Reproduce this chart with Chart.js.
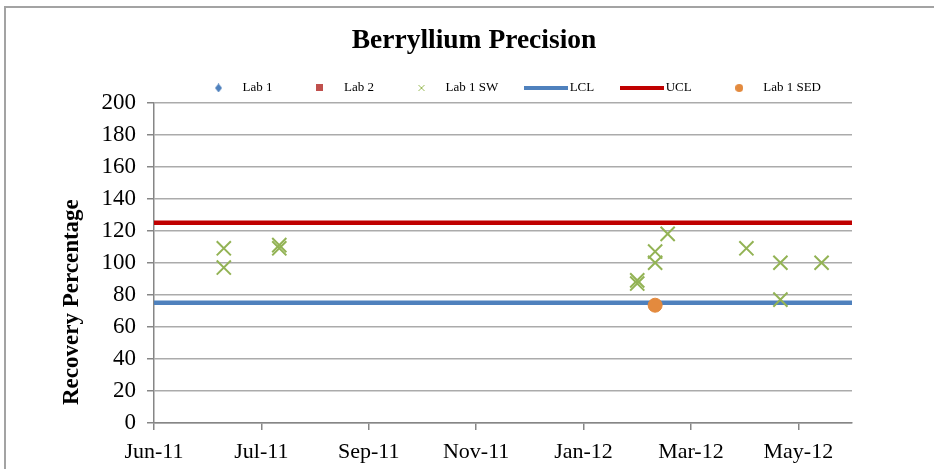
<!DOCTYPE html>
<html>
<head>
<meta charset="utf-8">
<script src="https://cdn.jsdelivr.net/npm/chart.js@4"></script>
<style>
  html, body { margin: 0; padding: 0; background: #fff; overflow: hidden; }
  #frame { position: absolute; left: 4px; top: 6px; width: 2000px; height: 2000px;
           border-left: 2px solid #a3a3a3; border-top: 2px solid #a3a3a3; }
  #chart { position: absolute; left: 0; top: 0; }
</style>
</head>
<body>
<div id="frame"></div>
<canvas id="chart" width="934" height="469"></canvas>
<script>
// x axis runs in days from 1 Jun 2011, a labelled tick every 60 days
const axisStart = Date.UTC(2011, 5, 1);
const axisDays = 390;
const dayStep = 60;
const monthNames = ['Jan', 'Feb', 'Mar', 'Apr', 'May', 'Jun', 'Jul', 'Aug', 'Sep', 'Oct', 'Nov', 'Dec'];

const yMin = 0;
const yMax = 200;
const yStep = 20;

const lcl = 75;
const ucl = 125;

const lab1Dates = [];
const lab1Values = [];
const lab2Dates = [];
const lab2Values = [];

const swDates = ['2011-07-10', '2011-07-10', '2011-08-10', '2011-08-10',
                 '2012-02-26', '2012-02-26', '2012-03-07', '2012-03-07', '2012-03-14',
                 '2012-04-27', '2012-05-16', '2012-05-16', '2012-06-08'];
const swValues = [109, 97, 111, 109,
                  89, 87, 107, 100, 118,
                  109, 100, 77, 100];

const sedDates = ['2012-03-07'];
const sedValues = [73.5];

const seriesNames = ['Lab 1', 'Lab 2', 'Lab 1 SW', 'LCL', 'UCL', 'Lab 1 SED'];
const yTitle = 'Recovery Percentage';

const serif = "'Liberation Serif', 'DejaVu Serif', serif";

function toDay(d) {
  return (Date.parse(d) - axisStart) / 864e5;
}

function points(dates, values) {
  return dates.map((d, i) => ({ x: toDay(d), y: values[i] }));
}

function dayLabel(day) {
  const dt = new Date(axisStart + day * 864e5);
  return monthNames[dt.getUTCMonth()] + '-' + String(dt.getUTCFullYear()).slice(2);
}

function icon(w, h, paint) {
  const c = document.createElement('canvas');
  c.width = w;
  c.height = h;
  paint(c.getContext('2d'), w, h);
  return c;
}

// small legend swatches, one per series
const legendIcons = [
  icon(7, 9, (ctx, w, h) => {
    ctx.fillStyle = '#4F81BD';
    ctx.beginPath();
    ctx.moveTo(w / 2, 0); ctx.lineTo(w, h / 2); ctx.lineTo(w / 2, h); ctx.lineTo(0, h / 2);
    ctx.closePath();
    ctx.fill();
  }),
  icon(7, 7, (ctx, w, h) => {
    ctx.fillStyle = '#C0504D';
    ctx.fillRect(0, 0, w, h);
  }),
  icon(8, 8, (ctx, w, h) => {
    ctx.strokeStyle = '#9BBB59';
    ctx.lineWidth = 1;
    ctx.beginPath();
    ctx.moveTo(1, 1); ctx.lineTo(w - 1, h - 1);
    ctx.moveTo(w - 1, 1); ctx.lineTo(1, h - 1);
    ctx.stroke();
  }),
  icon(44, 4, (ctx, w, h) => {
    ctx.fillStyle = '#4F81BD';
    ctx.fillRect(0, 0, w, h);
  }),
  icon(44, 4, (ctx, w, h) => {
    ctx.fillStyle = '#C00000';
    ctx.fillRect(0, 0, w, h);
  }),
  icon(8, 8, (ctx, w, h) => {
    ctx.fillStyle = '#E38A3E';
    ctx.beginPath();
    ctx.arc(w / 2, h / 2, w / 2, 0, Math.PI * 2);
    ctx.fill();
  })
];

// legend row sits a bit right of the plot centre and close to the plot top
const legendNudge = {
  id: 'legendNudge',
  afterLayout(chart) {
    const lg = chart.legend;
    lg.left += 8;
    lg.right += 8;
    lg.top += 2;
    lg.bottom += 2;
  }
};

// vertical axis title, sitting a little above the bottom of the plot
const axisTitle = {
  id: 'axisTitle',
  afterDraw(chart) {
    const { ctx, chartArea } = chart;
    ctx.save();
    ctx.translate(72, chartArea.bottom - 18);
    ctx.rotate(-Math.PI / 2);
    ctx.font = 'bold 23px ' + serif;
    ctx.fillStyle = '#000';
    ctx.textAlign = 'left';
    ctx.textBaseline = 'middle';
    ctx.fillText(yTitle, 0, 0);
    ctx.restore();
  }
};

new Chart(document.getElementById('chart'), {
  type: 'scatter',
  data: {
    datasets: [
      {
        label: seriesNames[0],
        data: points(lab1Dates, lab1Values),
        pointStyle: 'rectRot',
        backgroundColor: '#4F81BD',
        borderColor: '#4F81BD',
      },
      {
        label: seriesNames[1],
        data: points(lab2Dates, lab2Values),
        pointStyle: 'rect',
        backgroundColor: '#C0504D',
        borderColor: '#C0504D',
      },
      {
        label: seriesNames[2],
        data: points(swDates, swValues),
        pointStyle: 'crossRot',
        pointRadius: 10,
        borderColor: '#93B355',
        borderWidth: 2,
        order: 0,
      },
      {
        label: seriesNames[3],
        data: [{ x: 0, y: lcl }, { x: axisDays, y: lcl }],
        showLine: true,
        pointRadius: 0,
        borderColor: '#4F81BD',
        borderWidth: 4.5,
        order: 2,
      },
      {
        label: seriesNames[4],
        data: [{ x: 0, y: ucl }, { x: axisDays, y: ucl }],
        showLine: true,
        pointRadius: 0,
        borderColor: '#C00000',
        borderWidth: 4.5,
        order: 2,
      },
      {
        label: seriesNames[5],
        data: points(sedDates, sedValues),
        pointStyle: 'circle',
        pointRadius: 7,
        backgroundColor: '#E38A3E',
        borderColor: '#E38A3E',
        borderWidth: 1,
        order: 0,
      }
    ]
  },
  options: {
    responsive: false,
    animation: false,
    events: [],
    layout: { padding: { left: 96, right: 82, top: 0, bottom: 0 } },
    plugins: {
      title: {
        display: true,
        text: 'Berryllium Precision',
        color: '#000',
        font: { family: serif, size: 27.5, weight: 'bold', lineHeight: 0.618 },
        padding: { top: 32.5, bottom: 0 },
      },
      legend: {
        display: true,
        fullSize: false,
        labels: {
          usePointStyle: true,
          pointStyleWidth: 35,
          padding: 30,
          color: '#000',
          font: { family: serif, size: 13 },
          generateLabels: (chart) => chart.data.datasets.map((ds, i) => ({
            text: ds.label,
            pointStyle: legendIcons[i],
            fillStyle: 'transparent',
            strokeStyle: 'transparent',
            lineWidth: 0,
            hidden: false,
            datasetIndex: i,
            fontColor: '#000',
          })),
        },
      },
      tooltip: { enabled: false },
    },
    scales: {
      x: {
        type: 'linear',
        min: 0,
        max: axisDays,
        afterFit: (scale) => { scale.height = 46; },
        ticks: {
          stepSize: dayStep,
          includeBounds: false,
          padding: 9,
          color: '#000',
          font: { family: serif, size: 22 },
          callback: (value) => dayLabel(value),
        },
        grid: {
          drawOnChartArea: false,
          drawTicks: true,
          tickLength: 7,
          color: '#868686',
          lineWidth: 1.5,
        },
        border: { color: '#868686', width: 1.5 },
      },
      y: {
        min: yMin,
        max: yMax,
        afterFit: (scale) => { scale.width = 58; },
        ticks: {
          stepSize: yStep,
          padding: 11,
          color: '#000',
          font: { family: serif, size: 23 },
        },
        grid: {
          color: '#ababab',
          lineWidth: 1.5,
          tickLength: 7,
          tickColor: '#868686',
        },
        border: { color: '#868686', width: 1.5 },
      },
    },
  },
  plugins: [legendNudge, axisTitle],
});
</script>
</body>
</html>
